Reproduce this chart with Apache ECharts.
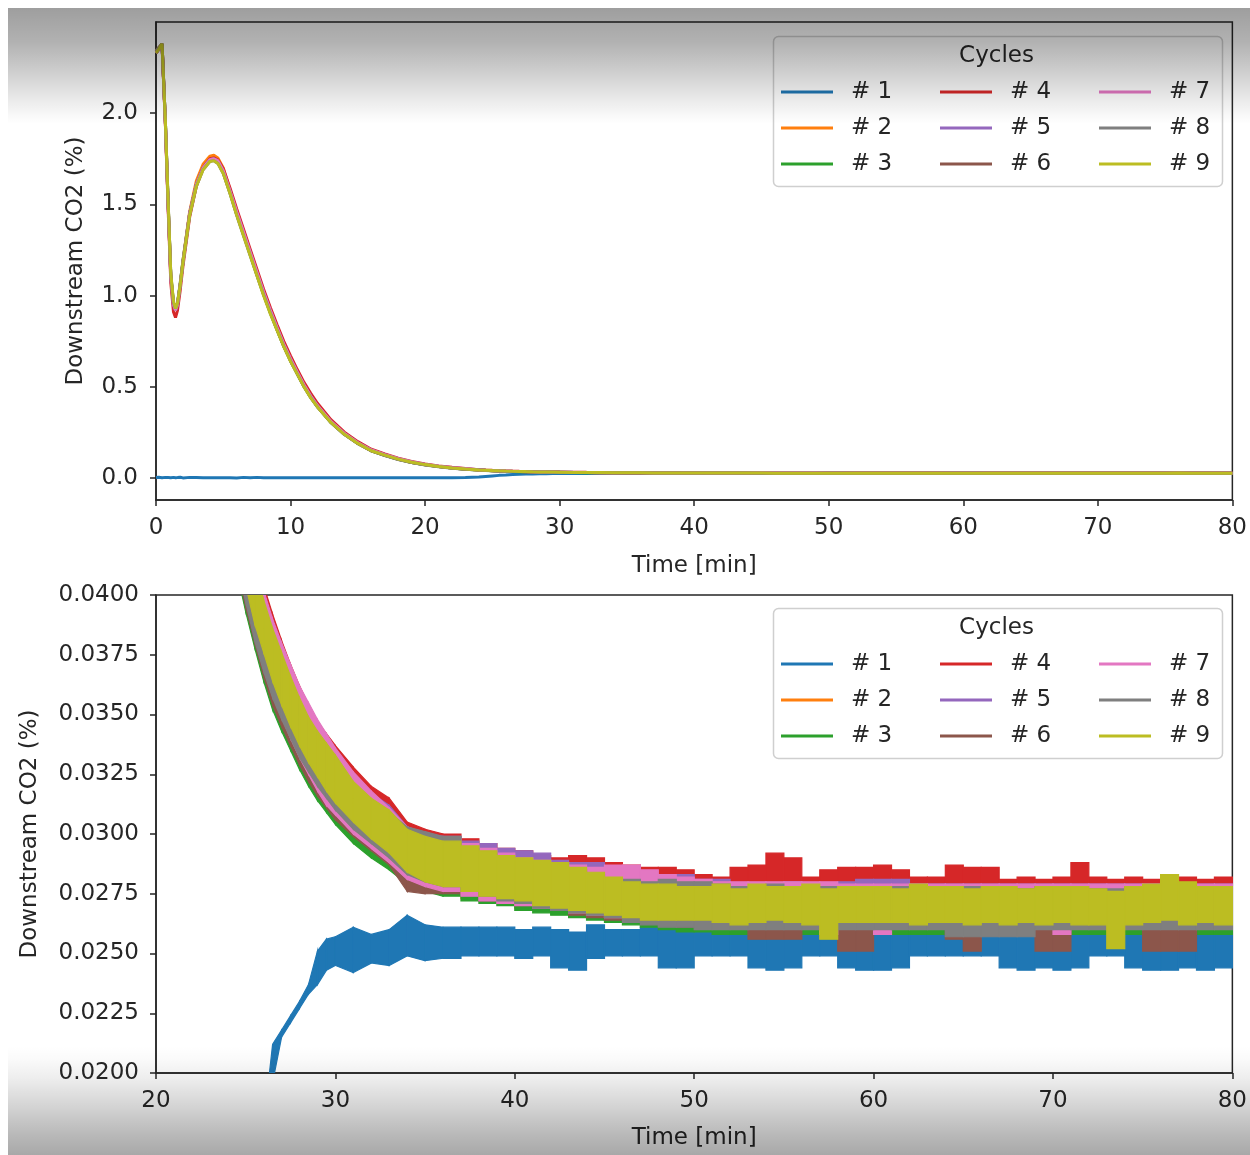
<!DOCTYPE html>
<html>
<head>
<meta charset="utf-8">
<title>Downstream CO2 per cycle</title>
<script src="https://cdn.jsdelivr.net/npm/echarts@6/dist/echarts.min.js"></script>
<style>
  html, body { margin: 0; padding: 0; background: #ffffff; }
  #chart { width: 1250px; height: 1155px; }
</style>
</head>
<body>
<div id="chart"></div>
<script>
// ---- cycles ----
const cycleNames = ['# 1', '# 2', '# 3', '# 4', '# 5', '# 6', '# 7', '# 8', '# 9'];
const cycleColors = ['#1f77b4', '#ff7f0e', '#2ca02c', '#d62728', '#9467bd',
                     '#8c564b', '#e377c2', '#7f7f7f', '#bcbd22'];

// ---- axis ticks ----
const topXTicks = [0, 10, 20, 30, 40, 50, 60, 70, 80];
const topYTicks = [0.0, 0.5, 1.0, 1.5, 2.0];
const bottomXTicks = [20, 30, 40, 50, 60, 70, 80];
const bottomYTicks = [0.0200, 0.0225, 0.0250, 0.0275, 0.0300, 0.0325, 0.0350, 0.0375, 0.0400];

// ---- early breakthrough transient, time in min, CO2 in % ----
const transientTime = [0, 0.2, 0.45, 0.7, 0.9, 1.1, 1.3, 1.45, 1.6, 1.8, 2, 2.5, 3, 3.5, 4,
  4.3, 4.6, 5, 5.5, 6, 6.5, 7, 7.5, 8, 8.5, 9, 9.5, 10, 10.5, 11, 11.5, 12, 13, 14, 15,
  16, 17, 18, 19, 20, 21, 22, 23];

const transient1 = [0.003, 0.005, 0.002, 0.004, 0.003, 0.002, 0.004, 0.002, 0.003, 0.005,
  0.001, 0.004, 0.003, 0.002, 0.002, 0.002, 0.002, 0.002, 0.002, 0.001, 0.004, 0.002, 0.004,
  0.002, 0.002, 0.002, 0.002, 0.002, 0.002, 0.002, 0.002, 0.002, 0.002, 0.002, 0.002, 0.002,
  0.002, 0.002, 0.002, 0.002, 0.002, 0.002, 0.003];
const transient2 = [2.34, 2.36, 2.38, 1.94, 1.50, 1.10, 0.95, 0.92, 0.95, 1.06, 1.19, 1.46,
  1.63, 1.72, 1.765, 1.77, 1.755, 1.70, 1.58, 1.46, 1.345, 1.23, 1.12, 1.01, 0.91, 0.815,
  0.725, 0.645, 0.575, 0.505, 0.445, 0.393, 0.307, 0.242, 0.191, 0.151, 0.126, 0.104, 0.087,
  0.074, 0.064, 0.056, 0.050];
const transient3 = [2.33, 2.35, 2.38, 1.95, 1.51, 1.11, 0.96, 0.93, 0.96, 1.07, 1.19, 1.45,
  1.61, 1.70, 1.74, 1.745, 1.73, 1.675, 1.565, 1.445, 1.335, 1.225, 1.115, 1.005, 0.905,
  0.812, 0.722, 0.642, 0.572, 0.502, 0.442, 0.391, 0.305, 0.24, 0.19, 0.15, 0.125, 0.103,
  0.086, 0.073, 0.063, 0.055, 0.049];
const transient4 = [2.33, 2.35, 2.37, 1.93, 1.48, 1.07, 0.91, 0.88, 0.92, 1.03, 1.16, 1.43,
  1.60, 1.70, 1.75, 1.755, 1.745, 1.695, 1.59, 1.475, 1.365, 1.255, 1.145, 1.035, 0.935,
  0.84, 0.75, 0.67, 0.595, 0.525, 0.465, 0.41, 0.32, 0.252, 0.20, 0.158, 0.132, 0.109,
  0.091, 0.078, 0.067, 0.059, 0.053];
const transient5 = [2.33, 2.35, 2.37, 1.94, 1.50, 1.10, 0.95, 0.92, 0.95, 1.06, 1.18, 1.45,
  1.61, 1.70, 1.745, 1.75, 1.735, 1.68, 1.57, 1.455, 1.345, 1.235, 1.125, 1.015, 0.915,
  0.82, 0.73, 0.65, 0.578, 0.508, 0.448, 0.396, 0.31, 0.244, 0.193, 0.153, 0.128, 0.106,
  0.088, 0.075, 0.065, 0.057, 0.051];
const transient6 = [2.33, 2.35, 2.38, 1.95, 1.51, 1.11, 0.95, 0.92, 0.95, 1.06, 1.18, 1.45,
  1.61, 1.70, 1.745, 1.75, 1.735, 1.68, 1.57, 1.45, 1.34, 1.23, 1.12, 1.01, 0.91, 0.815,
  0.725, 0.645, 0.574, 0.504, 0.444, 0.392, 0.306, 0.241, 0.19, 0.15, 0.125, 0.103, 0.086,
  0.073, 0.063, 0.055, 0.049];
const transient7 = [2.33, 2.35, 2.38, 1.94, 1.50, 1.10, 0.95, 0.92, 0.95, 1.06, 1.18, 1.45,
  1.61, 1.70, 1.745, 1.75, 1.74, 1.685, 1.575, 1.46, 1.35, 1.24, 1.13, 1.02, 0.92, 0.825,
  0.735, 0.655, 0.582, 0.512, 0.45, 0.398, 0.311, 0.245, 0.194, 0.154, 0.128, 0.106, 0.088,
  0.075, 0.065, 0.057, 0.051];
const transient8 = [2.34, 2.36, 2.38, 1.95, 1.52, 1.12, 0.96, 0.93, 0.96, 1.06, 1.18, 1.44,
  1.60, 1.69, 1.735, 1.74, 1.725, 1.67, 1.56, 1.44, 1.33, 1.22, 1.11, 1.005, 0.905, 0.812,
  0.722, 0.642, 0.571, 0.501, 0.441, 0.39, 0.304, 0.239, 0.189, 0.149, 0.124, 0.102, 0.085,
  0.072, 0.062, 0.054, 0.049];
const transient9 = [2.33, 2.35, 2.38, 1.95, 1.52, 1.12, 0.97, 0.93, 0.96, 1.06, 1.18, 1.44,
  1.60, 1.69, 1.735, 1.74, 1.725, 1.67, 1.56, 1.44, 1.33, 1.22, 1.11, 1.00, 0.90, 0.81,
  0.72, 0.64, 0.57, 0.50, 0.44, 0.39, 0.305, 0.24, 0.19, 0.15, 0.126, 0.104, 0.087, 0.074,
  0.064, 0.056, 0.050];

// ---- late tail: min / max of the noisy sensor signal, time in min, CO2 in ppm ----
const bandTime = [24, 24.5, 25, 25.5, 26, 26.5, 27, 27.5, 28, 28.5, 29, 29.5,
  30, 31, 32, 33, 34, 35, 36, 37, 38, 39, 40, 41, 42, 43, 44, 45, 46, 47, 48, 49,
  50, 51, 52, 53, 54, 55, 56, 57, 58, 59, 60, 61, 62, 63, 64, 65, 66, 67, 68, 69,
  70, 71, 72, 73, 74, 75, 76, 77, 78, 79, 80];
// past this time the logger output is held between samples
const stepFrom = 36;

const bandLo1 = [55, 85, 115, 145, 170, 196, 215, 221, 227, 233, 237, 243,
  245, 242, 246, 245, 249, 247, 248, 249, 249, 249,
  248, 249, 244, 243, 248, 249, 249, 249, 244, 244,
  249, 249, 249, 244, 243, 244, 249, 249, 244, 243,
  243, 244, 249, 249, 249, 249, 249, 244, 243, 244,
  243, 244, 249, 249, 244, 243, 243, 244, 243, 244,
  243];
const bandHi1 = [65, 95, 125, 155, 178, 212, 218, 224, 230, 237, 251, 256,
  257, 261, 258, 260, 266, 262, 261, 261, 261, 261,
  260, 261, 260, 259, 262, 260, 260, 261, 260, 260,
  260, 260, 260, 261, 260, 259, 260, 261, 260, 260,
  260, 260, 261, 260, 260, 260, 260, 260, 260, 261,
  260, 260, 260, 259, 260, 261, 260, 260, 260, 261,
  260];

const bandLo2 = [429, 411, 394, 379, 365, 353, 344, 336, 328, 321, 315, 310,
  305, 297, 291, 286, 280, 277, 275, 273, 272, 271,
  269, 268, 267, 266, 265, 264, 263, 263, 262, 262,
  262, 262, 262, 262, 262, 262, 262, 262, 262, 262,
  262, 262, 262, 262, 262, 262, 262, 262, 262, 262,
  262, 262, 262, 262, 262, 262, 262, 262, 262, 262,
  262];
const bandHi2 = [457, 439, 422, 406, 392, 380, 370, 361, 352, 345, 339, 334,
  329, 319, 312, 307, 300, 297, 294, 292, 290, 288,
  287, 286, 285, 284, 283, 281, 280, 279, 278, 278,
  278, 277, 277, 277, 277, 277, 277, 277, 277, 277,
  277, 277, 277, 277, 277, 277, 277, 277, 277, 277,
  277, 277, 277, 277, 277, 277, 277, 277, 277, 277,
  277];

const bandLo3 = [428, 410, 393, 378, 364, 352, 343, 335, 327, 320, 314, 309,
  304, 296, 290, 285, 279, 276, 274, 272, 271, 270,
  268, 267, 266, 265, 264, 263, 262, 261, 260, 259,
  259, 258, 258, 258, 258, 258, 258, 258, 258, 258,
  258, 258, 258, 258, 258, 258, 258, 258, 258, 258,
  258, 258, 258, 258, 258, 258, 258, 258, 258, 258,
  258];
const bandHi3 = [455, 437, 420, 404, 389, 377, 367, 358, 350, 343, 337, 332,
  327, 317, 310, 305, 299, 296, 293, 291, 289, 287,
  285, 284, 283, 282, 281, 279, 278, 278, 277, 277,
  277, 277, 276, 276, 277, 276, 276, 277, 276, 276,
  276, 276, 277, 276, 276, 276, 276, 277, 276, 276,
  276, 276, 276, 276, 276, 276, 276, 276, 276, 276,
  276];

const bandLo4 = [452, 434, 417, 401, 388, 376, 366, 357, 349, 342, 336, 331,
  326, 316, 309, 303, 294, 291, 288, 286, 284, 282,
  281, 279, 278, 277, 276, 275, 274, 273, 273, 272,
  272, 271, 272, 271, 272, 271, 271, 270, 271, 271,
  271, 271, 270, 271, 271, 270, 271, 270, 271, 271,
  271, 270, 271, 270, 271, 271, 270, 271, 271, 270,
  271];
const bandHi4 = [470, 452, 435, 419, 404, 392, 381, 371, 362, 354, 347, 342,
  337, 328, 320, 315, 305, 302, 300, 298, 296, 294,
  293, 291, 290, 291, 290, 288, 287, 286, 286, 285,
  283, 282, 286, 287, 292, 290, 282, 285, 286, 286,
  287, 285, 282, 282, 287, 286, 286, 281, 282, 281,
  282, 288, 282, 281, 282, 281, 281, 282, 281, 282,
  281];

const bandLo5 = [444, 426, 409, 393, 380, 368, 358, 349, 341, 334, 328, 322,
  317, 308, 301, 295, 287, 283, 281, 279, 277, 275,
  274, 273, 272, 271, 270, 269, 268, 267, 267, 266,
  266, 266, 266, 266, 266, 266, 266, 266, 266, 266,
  266, 266, 266, 266, 266, 266, 266, 266, 266, 266,
  266, 266, 266, 266, 266, 266, 266, 266, 266, 266,
  266];
const bandHi5 = [466, 448, 431, 415, 400, 388, 378, 368, 359, 351, 345, 340,
  335, 325, 317, 312, 303, 300, 299, 297, 296, 294,
  293, 292, 289, 288, 288, 285, 284, 283, 282, 283,
  281, 281, 279, 279, 279, 280, 279, 279, 280, 281,
  281, 281, 279, 279, 279, 279, 279, 279, 279, 279,
  279, 279, 279, 279, 279, 279, 279, 279, 279, 279,
  279];

const bandLo6 = [430, 412, 395, 380, 366, 354, 345, 337, 329, 322, 316, 311,
  306, 299, 293, 287, 276, 275, 275, 275, 272, 271,
  270, 269, 268, 266, 265, 264, 264, 263, 262, 261,
  261, 261, 261, 256, 256, 256, 261, 261, 251, 251,
  261, 261, 261, 261, 256, 251, 261, 261, 261, 251,
  251, 261, 261, 261, 261, 251, 251, 251, 261, 261,
  253];
const bandHi6 = [456, 438, 421, 405, 390, 378, 368, 359, 351, 344, 338, 333,
  328, 318, 311, 306, 298, 295, 292, 290, 288, 286,
  285, 284, 283, 282, 281, 280, 279, 278, 278, 278,
  277, 277, 277, 277, 276, 276, 276, 276, 276, 276,
  276, 276, 276, 276, 276, 276, 276, 276, 276, 276,
  276, 276, 276, 276, 276, 276, 276, 276, 276, 276,
  276];

const bandLo7 = [434, 416, 399, 384, 371, 359, 349, 340, 332, 325, 318, 312,
  308, 300, 294, 288, 281, 278, 276, 274, 272, 271,
  270, 269, 268, 267, 266, 265, 265, 265, 265, 265,
  265, 265, 265, 265, 265, 265, 265, 258, 265, 265,
  258, 265, 265, 265, 265, 265, 265, 265, 265, 265,
  258, 265, 265, 265, 265, 265, 265, 265, 265, 265,
  265];
const bandHi7 = [468, 450, 433, 417, 402, 390, 380, 371, 362, 355, 348, 342,
  336, 326, 318, 311, 303, 300, 298, 296, 294, 292,
  290, 289, 288, 287, 286, 287, 287, 285, 283, 282,
  281, 280, 280, 280, 280, 280, 280, 280, 279, 279,
  279, 279, 279, 279, 279, 279, 279, 279, 279, 279,
  279, 279, 279, 279, 279, 279, 279, 279, 279, 279,
  279];

const bandLo8 = [432, 414, 397, 381, 368, 357, 348, 340, 332, 326, 320, 315,
  310, 302, 296, 290, 283, 280, 278, 276, 274, 272,
  271, 269, 268, 267, 266, 265, 263, 262, 261, 261,
  260, 260, 260, 260, 260, 260, 260, 260, 260, 260,
  260, 260, 260, 260, 257, 257, 257, 257, 257, 260,
  260, 260, 260, 260, 260, 260, 260, 260, 260, 260,
  260];
const bandHi8 = [458, 440, 423, 407, 392, 380, 370, 361, 353, 346, 341, 336,
  331, 320, 313, 309, 303, 301, 299, 294, 292, 290,
  288, 287, 286, 285, 283, 281, 281, 280, 281, 280,
  280, 279, 278, 278, 279, 278, 277, 278, 277, 278,
  277, 278, 277, 278, 277, 278, 277, 277, 277, 278,
  277, 277, 277, 277, 278, 277, 277, 277, 277, 277,
  277];

const bandLo9 = [440, 422, 404, 388, 376, 364, 354, 345, 337, 330, 324, 318,
  313, 305, 298, 292, 284, 280, 278, 276, 274, 273,
  272, 270, 269, 268, 267, 266, 265, 264, 264, 264,
  264, 263, 262, 263, 264, 263, 262, 256, 263, 263,
  263, 263, 262, 263, 263, 262, 263, 262, 263, 262,
  263, 262, 262, 252, 262, 263, 264, 262, 263, 262,
  263];
const bandHi9 = [462, 445, 428, 412, 398, 386, 376, 366, 357, 349, 343, 338,
  333, 322, 315, 310, 302, 299, 297, 295, 293, 291,
  290, 289, 288, 286, 284, 282, 280, 279, 279, 278,
  278, 279, 277, 279, 278, 278, 279, 277, 278, 278,
  278, 277, 279, 278, 278, 277, 278, 278, 277, 278,
  278, 278, 277, 276, 278, 279, 283, 280, 278, 278,
  278];

const transients = [transient1, transient2, transient3, transient4, transient5,
                    transient6, transient7, transient8, transient9];
const bandLows = [bandLo1, bandLo2, bandLo3, bandLo4, bandLo5, bandLo6, bandLo7, bandLo8, bandLo9];
const bandHighs = [bandHi1, bandHi2, bandHi3, bandHi4, bandHi5, bandHi6, bandHi7, bandHi8, bandHi9];

// ---- helpers ----
const PPM_PER_PERCENT = 10000;
const FONT = 'DejaVu Sans';
const INK = '#262626';

// full trace for the overview panel: transient, then the middle of the tail envelope
function overviewTrace(i) {
  const pts = transientTime.map((t, k) => [t, transients[i][k]]);
  bandTime.forEach((t, k) => {
    pts.push([t, (bandLows[i][k] + bandHighs[i][k]) / 2 / PPM_PER_PERCENT]);
  });
  return pts;
}

// tail envelope as consecutive segments [t0, lo0, hi0, t1, lo1, hi1] in %
function envelopeSegments(i) {
  const lo = bandLows[i], hi = bandHighs[i], segs = [];
  for (let k = 0; k < bandTime.length - 1; k++) {
    segs.push([bandTime[k], lo[k] / PPM_PER_PERCENT, hi[k] / PPM_PER_PERCENT,
               bandTime[k + 1], lo[k + 1] / PPM_PER_PERCENT, hi[k + 1] / PPM_PER_PERCENT]);
  }
  return segs;
}

function makeAxisCommon() {
  return {
    axisLine: { show: true, onZero: false, lineStyle: { color: INK, width: 1.5 } },
    axisTick: { show: true, inside: false, length: 6, lineStyle: { color: INK, width: 1.5 } },
    splitLine: { show: false },
    axisLabel: { color: INK, fontSize: 23, fontFamily: FONT, showMinLabel: true, showMaxLabel: true },
    nameTextStyle: { color: INK, fontSize: 23, fontFamily: FONT },
    nameLocation: 'middle'
  };
}

const series = [];
cycleNames.forEach((name, i) => {
  series.push({
    type: 'line', name, xAxisIndex: 0, yAxisIndex: 0,
    data: overviewTrace(i), showSymbol: false, clip: true,
    lineStyle: { color: cycleColors[i], width: 3 },
    itemStyle: { color: cycleColors[i] },
    emphasis: { disabled: true }, animation: false
  });
});
cycleNames.forEach((name, i) => {
  const color = cycleColors[i];
  series.push({
    type: 'custom', name, xAxisIndex: 1, yAxisIndex: 1, clip: true,
    data: envelopeSegments(i),
    encode: { x: [0, 3], y: [1, 2, 4, 5] },
    itemStyle: { color },
    renderItem: (params, api) => {
      const t0 = api.value(0), t1 = api.value(3);
      const held = t0 >= stepFrom;
      const hiEnd = held ? api.value(2) : api.value(5);
      const loEnd = held ? api.value(1) : api.value(4);
      const a = api.coord([t0, api.value(2)]);
      const b = api.coord([t1, hiEnd]);
      const c = api.coord([t1, loEnd]);
      const d = api.coord([t0, api.value(1)]);
      return {
        type: 'polygon',
        shape: { points: [a, b, c, d] },
        style: { fill: color, stroke: color, lineWidth: 1.2 }
      };
    },
    animation: false
  });
});

// legend: three columns of three entries per panel
const legendCols = [781, 940, 1099];
function legendsAt(top) {
  return legendCols.map((left, c) => ({
    left, top, orient: 'vertical', padding: 0, itemGap: 12,
    icon: 'rect', itemWidth: 52, itemHeight: 3, selectedMode: false,
    data: cycleNames.slice(c * 3, c * 3 + 3),
    textStyle: { color: INK, fontSize: 23, fontFamily: FONT, lineHeight: 24, padding: [0, 0, 0, 13] }
  }));
}

function legendFrame(y) {
  return [
    { type: 'rect', z: 3, silent: true,
      shape: { x: 773.5, y: y + 0.5, width: 449, height: 150, r: 5 },
      style: { fill: 'rgba(255,255,255,0.8)', stroke: '#cfcfcf', lineWidth: 1.5 } },
    { type: 'text', z: 5, silent: true, x: 996.5, y: y + 20,
      style: { text: 'Cycles', fill: INK, fontSize: 23, fontFamily: FONT,
               align: 'center', verticalAlign: 'middle' } }
  ];
}

const topXAxis = Object.assign(makeAxisCommon(), {
  type: 'value', gridIndex: 0, min: topXTicks[0], max: topXTicks[topXTicks.length - 1],
  interval: 10, name: 'Time [min]', nameGap: 55
});
topXAxis.axisLabel.margin = 17;
topXAxis.axisLabel.formatter = v => String(v);

const topYAxis = Object.assign(makeAxisCommon(), {
  type: 'value', gridIndex: 0, min: -0.12, max: 2.5,
  name: 'Downstream CO2 (%)', nameGap: 68
});
topYAxis.axisLabel.margin = 18;
topYAxis.axisLabel.customValues = topYTicks;
topYAxis.axisTick.customValues = topYTicks;
topYAxis.axisLabel.formatter = v => v.toFixed(1);

const bottomXAxis = Object.assign(makeAxisCommon(), {
  type: 'value', gridIndex: 1, min: bottomXTicks[0], max: bottomXTicks[bottomXTicks.length - 1],
  interval: 10, name: 'Time [min]', nameGap: 54
});
bottomXAxis.axisLabel.margin = 17;
bottomXAxis.axisLabel.formatter = v => String(v);

const bottomYAxis = Object.assign(makeAxisCommon(), {
  type: 'value', gridIndex: 1, min: bottomYTicks[0], max: bottomYTicks[bottomYTicks.length - 1],
  interval: 0.0025, name: 'Downstream CO2 (%)', nameGap: 114
});
bottomYAxis.axisLabel.margin = 17;
bottomYAxis.axisLabel.formatter = v => v.toFixed(4);

const chart = echarts.init(document.getElementById('chart'), null, { renderer: 'canvas' });
chart.setOption({
  backgroundColor: '#ffffff',
  animation: false,
  textStyle: { fontFamily: FONT },
  grid: [
    { left: 156, top: 22, width: 1077, height: 478, show: true,
      borderColor: INK, borderWidth: 1.5, backgroundColor: 'transparent' },
    { left: 156, top: 595, width: 1077, height: 478, show: true,
      borderColor: INK, borderWidth: 1.5, backgroundColor: 'transparent' }
  ],
  xAxis: [topXAxis, bottomXAxis],
  yAxis: [topYAxis, bottomYAxis],
  legend: legendsAt(80).concat(legendsAt(652)),
  series,
  graphic: {
    elements: [
      ...legendFrame(36),
      ...legendFrame(608),
      // shading along the top and bottom edges of the figure
      { type: 'rect', z: 100, silent: true,
        shape: { x: 8, y: 8, width: 1242, height: 116 },
        style: { fill: { type: 'linear', x: 0, y: 0, x2: 0, y2: 1, colorStops: [
          { offset: 0, color: 'rgba(0,0,0,0.38)' },
          { offset: 0.3, color: 'rgba(0,0,0,0.30)' },
          { offset: 0.6, color: 'rgba(0,0,0,0.17)' },
          { offset: 0.8, color: 'rgba(0,0,0,0.08)' },
          { offset: 0.93, color: 'rgba(0,0,0,0.025)' },
          { offset: 1, color: 'rgba(0,0,0,0)' } ] } } },
      { type: 'rect', z: 100, silent: true,
        shape: { x: 8, y: 1046, width: 1242, height: 109 },
        style: { fill: { type: 'linear', x: 0, y: 0, x2: 0, y2: 1, colorStops: [
          { offset: 0, color: 'rgba(0,0,0,0)' },
          { offset: 0.12, color: 'rgba(0,0,0,0.02)' },
          { offset: 0.3, color: 'rgba(0,0,0,0.07)' },
          { offset: 0.55, color: 'rgba(0,0,0,0.17)' },
          { offset: 0.8, color: 'rgba(0,0,0,0.27)' },
          { offset: 1, color: 'rgba(0,0,0,0.34)' } ] } } }
    ]
  }
});
</script>
</body>
</html>
